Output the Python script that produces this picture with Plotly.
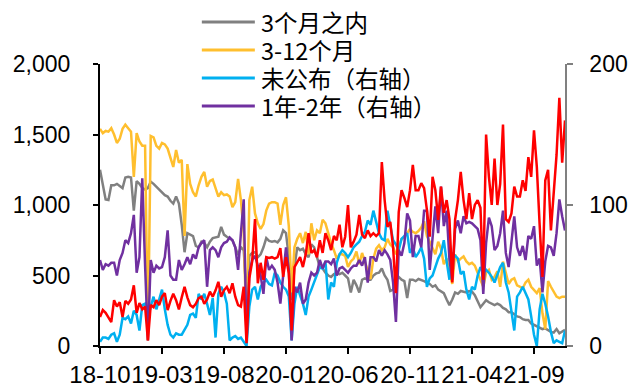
import plotly.graph_objects as go

# Weekly series, 166 observations (2018-10 .. 2021-12)
tick_pos = [0, 22, 44, 66, 88, 110, 132, 154]
tick_text = ["18-10", "19-03", "19-08", "20-01", "20-06", "20-11", "21-04", "21-09"]

# left axis
within_3m = [
    1250, 1150, 1040, 1035, 1140, 1140, 1150, 1135, 1120, 1195, 1200, 1195, 960, 1170, 1150, 1120, 1110, 1120, 1165, 1150,
    1130, 1110, 1085, 1070, 1060, 1030, 1010, 1060, 1010, 860, 665, 800, 790, 780, 710, 700, 740, 730, 700, 740,
    765, 770, 775, 845, 790, 775, 760, 750, 700, 645, 700, 680, 350, 640, 660, 665, 630, 650, 700, 765,
    745, 740, 745, 735, 760, 820, 800, 630, 325, 560, 700, 680, 690, 650, 630, 720, 700, 620, 560, 550,
    520, 500, 490, 510, 515, 510, 520, 500, 480, 380, 470, 430, 380, 470, 480, 470, 470, 500, 515, 520,
    550, 500, 470, 390, 400, 470, 490, 470, 460, 340, 470, 470, 460, 475, 470, 460, 450, 440, 420, 430,
    400, 390, 375, 330, 290, 330, 380, 370, 390, 385, 380, 390, 385, 360, 320, 275, 300, 325, 310, 300,
    290, 300, 290, 270, 260, 240, 240, 225, 210, 205, 190, 185, 185, 160, 150, 140, 135, 120, 125, 110,
    100, 95, 120, 90, 100, 115,
]
m3_12 = [
    1540, 1510, 1525, 1520, 1545, 1500, 1440, 1470, 1540, 1570, 1545, 1520, 1200, 1510, 1450, 1420, 1420, 40, 1490, 1480,
    1420, 1400, 1440, 1430, 1400, 1330, 1270, 1390, 1300, 1320, 780, 1290, 1150, 1090, 1060, 1140, 1200, 1235, 1130, 1170,
    1180, 1120, 1060, 1090, 1070, 1075, 1060, 985, 1020, 1185, 1035, 800, 90, 1035, 1130, 940, 870, 830, 865, 960,
    1010, 1020, 1020, 1010, 860, 1000, 1055, 850, 380, 700, 760, 800, 730, 810, 650, 870, 750, 820, 800, 895,
    870, 800, 730, 680, 620, 650, 650, 640, 560, 600, 620, 670, 580, 660, 600, 550, 475, 620, 690, 715,
    680, 700, 760, 720, 700, 650, 700, 760, 770, 800, 830, 810, 800, 815, 840, 885, 780, 740, 700, 650,
    740, 690, 580, 620, 520, 440, 650, 600, 620, 635, 600, 580, 590, 570, 520, 475, 420, 520, 540, 470,
    490, 530, 420, 598, 520, 440, 470, 480, 430, 420, 410, 450, 470, 420, 400, 375, 410, 232, 120, 460,
    420, 380, 350, 340, 350, 350,
]

# right axis
undisclosed = [
    3, 6, 6, 5, 8, 9, 3, 8, 20, 19, 21, 16, 25, 22, 11, 29, 30, 20, 28, 35,
    26, 33, 40, 26, 15, 8, 6, 9, 8, 8, 12, 15, 22, 23, 20, 37, 33, 37, 30, 22,
    34, 6, 37, 42, 38, 30, 4, 6, 7, 5, 6, 3, 0, 28, 40, 42, 33, 42, 45, 47,
    44, 43, 52, 50, 45, 42, 40, 35, 4, 30, 42, 36, 30, 22, 35, 40, 45, 50, 56, 55,
    60, 33, 45, 42, 59, 65, 68, 66, 63, 66, 70, 72, 74, 78, 81, 89, 86, 96, 88, 80,
    76, 75, 96, 84, 75, 72, 68, 76, 78, 80, 66, 70, 63, 66, 70, 62, 42, 48, 50, 56,
    62, 66, 75, 60, 47, 66, 64, 62, 51, 53, 40, 33, 42, 40, 50, 56, 52, 54, 52, 49,
    45, 50, 56, 59, 45, 38, 25, 11, 35, 38, 42, 38, 33, 21, 8, 0, 26, 37, 30, 21,
    10, 2, 4, 3, 2, 11,
]
y1_2 = [
    61, 54, 58, 57, 59, 59, 50, 61, 66, 75, 73, 80, 93, 52, 63, 119, 57, 4, 61, 52,
    57, 55, 56, 63, 82, 50, 47, 47, 61, 54, 58, 63, 58, 65, 62, 70, 73, 75, 42, 68,
    70, 68, 63, 70, 73, 74, 77, 75, 70, 54, 80, 104, 4, 52, 61, 64, 57, 50, 37, 63,
    54, 57, 54, 45, 30, 52, 70, 54, 4, 42, 38, 45, 30, 33, 45, 52, 50, 52, 61, 55,
    60, 60, 58, 62, 50, 55, 56, 54, 52, 55, 57, 57, 61, 57, 63, 45, 63, 63, 60, 68,
    64, 68, 65, 61, 45, 17, 68, 64, 73, 94, 89, 63, 78, 78, 70, 96, 96, 54, 80, 99,
    80, 113, 85, 96, 61, 47, 83, 89, 80, 92, 87, 88, 87, 85, 83, 75, 37, 73, 91, 85,
    68, 71, 80, 96, 66, 56, 72, 92, 70, 64, 71, 61, 78, 76, 85, 57, 62, 38, 60, 71,
    70, 64, 80, 104, 92, 82,
]
other = [
    20.5, 25.5, 23.5, 20, 17, 32.5, 28, 31, 20.5, 32, 30, 33, 43, 23.5, 30.5, 26, 28, 4, 29, 27.5,
    32.5, 29, 35, 37.5, 25.5, 32, 37, 32.5, 26, 34.5, 42, 34.5, 29, 27.5, 30, 34, 35, 30, 33, 38.5,
    35, 39.5, 45.5, 35, 39.5, 42, 37.5, 44.5, 35, 29, 28, 42, 2, 48, 60, 90, 44.5, 59, 47, 63,
    62.5, 63, 62, 63, 69.5, 49, 63, 51.5, 11, 56, 60, 63, 56, 65, 80, 66, 68, 63, 75, 66,
    80, 75, 68, 78, 75, 86, 70, 77.5, 100, 70, 74, 79, 93, 79, 76.5, 82, 78, 80, 78, 80,
    130.5, 103.5, 84.5, 88, 70, 37.5, 95, 110.5, 105, 98.5, 110.5, 128.5, 110.5, 110.5, 115.5, 112, 96.5, 77.5, 120, 110.5,
    89.5, 113, 94.5, 103.5, 90, 45, 89.5, 103.5, 123.5, 103.5, 90, 108.5, 90, 100, 103.5, 98, 47, 150, 120, 100,
    133, 100, 115, 157, 90, 88, 94, 113, 106, 106, 117.5, 110, 134, 120, 153, 127, 86, 49, 117.5, 125,
    82, 110.5, 135.5, 176, 130, 160,
]

names = ["3个月之内", "3-12个月", "未公布（右轴）", "1年-2年（右轴）"]
colors = {"gray": "#808080", "yellow": "#FFBF2E", "blue": "#00B0F0", "purple": "#7030A0", "red": "#FF0000"}

x = list(range(len(within_3m)))
FONT = "Arial, 'Liberation Sans', 'Noto Sans CJK SC', sans-serif"
CJK_FONT = "'Noto Sans CJK SC', 'Noto Sans', sans-serif"
LW = 2.5

fig = go.Figure()
fig.add_trace(go.Scatter(x=x, y=within_3m, mode="lines", name=names[0],
                         line=dict(color=colors["gray"], width=LW), yaxis="y"))
fig.add_trace(go.Scatter(x=x, y=m3_12, mode="lines", name=names[1],
                         line=dict(color=colors["yellow"], width=LW), yaxis="y"))
fig.add_trace(go.Scatter(x=x, y=undisclosed, mode="lines", name=names[2],
                         line=dict(color=colors["blue"], width=LW), yaxis="y2"))
fig.add_trace(go.Scatter(x=x, y=y1_2, mode="lines", name=names[3],
                         line=dict(color=colors["purple"], width=LW), yaxis="y2"))
fig.add_trace(go.Scatter(x=x, y=other, mode="lines", name="其他",
                         line=dict(color=colors["red"], width=LW), yaxis="y2"))

# legend drawn as line samples + labels above the plot
leg_colors = [colors["gray"], colors["yellow"], colors["blue"], colors["purple"]]
leg_y = [1.149, 1.050, 0.950, 0.851]
shapes = []
annotations = []
for nm, c, yy in zip(names, leg_colors, leg_y):
    shapes.append(dict(type="line", xref="paper", yref="paper", x0=0.219, x1=0.333, y0=yy, y1=yy,
                       line=dict(color=c, width=3)))
    annotations.append(dict(xref="paper", yref="paper", x=0.342, y=yy, text=nm, showarrow=False,
                            xanchor="left", yanchor="middle",
                            font=dict(family=CJK_FONT, size=23.5, color="#000000")))

fig.update_layout(
    width=628, height=383,
    margin=dict(l=100, r=63, t=64, b=37),
    paper_bgcolor="white", plot_bgcolor="white",
    showlegend=False,
    font=dict(family=FONT, size=23, color="#000000"),
    shapes=shapes, annotations=annotations,
    xaxis=dict(
        range=[0, len(x) - 1], tickmode="array", tickvals=tick_pos, ticktext=tick_text,
        tickangle=0, ticks="outside", ticklen=6, tickwidth=2, tickcolor="#000000",
        showline=True, linecolor="#000000", linewidth=2, showgrid=False, zeroline=False,
        automargin=False,
        tickfont=dict(family=FONT, size=24, color="#000000"),
    ),
    yaxis=dict(
        range=[0, 2000], tickvals=[0, 500, 1000, 1500, 2000], tickformat=",",
        ticks="outside", ticklen=5, tickwidth=2, tickcolor="#000000",
        showline=True, linecolor="#000000", linewidth=2, showgrid=False, zeroline=False,
        automargin=False, ticklabelstandoff=18,
        tickfont=dict(family=FONT, size=23, color="#000000"),
    ),
    yaxis2=dict(
        range=[0, 200], tickvals=[0, 100, 200], overlaying="y", side="right",
        ticks="outside", ticklen=6, tickwidth=1.5, tickcolor="#808080",
        showline=True, linecolor="#808080", linewidth=1.5, showgrid=False, zeroline=False,
        automargin=False, ticklabelstandoff=12,
        tickfont=dict(family=FONT, size=23, color="#000000"),
    ),
)

fig.write_html("out.html")
